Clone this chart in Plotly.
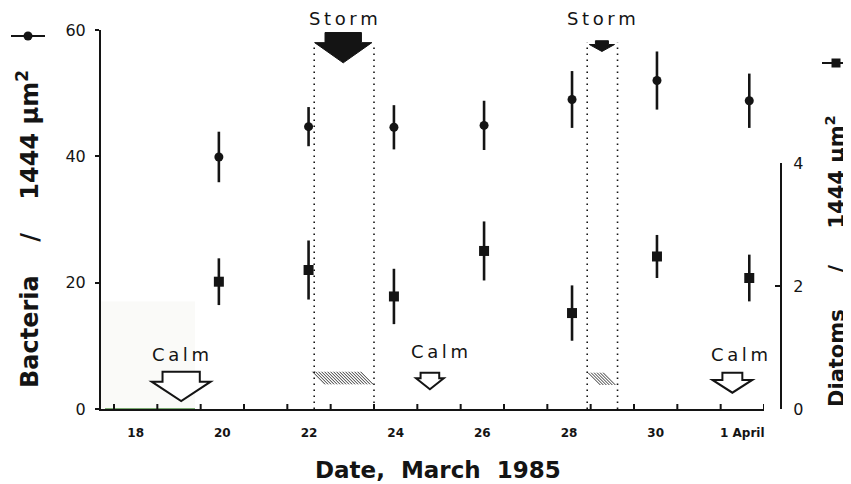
import plotly.graph_objects as go

# ---------------- data (days: March 18 00:00 = 18.0, 1 April = 32.0) ----------------
sample_day = [20.42, 22.49, 24.46, 26.54, 28.57, 30.53, 32.66]
bacteria = [39.9, 44.7, 44.6, 44.9, 49.0, 52.0, 48.8]
bacteria_err = [4.0, 3.1, 3.5, 3.9, 4.5, 4.6, 4.3]
diatoms = [2.07, 2.26, 1.83, 2.57, 1.56, 2.48, 2.13]
diatoms_err = [0.38, 0.48, 0.45, 0.48, 0.45, 0.35, 0.38]

day_boundaries = list(range(18, 34))
label_pos = [18.5, 20.5, 22.5, 24.5, 26.5, 28.5, 30.5, 32.5]
label_text = ["18", "20", "22", "24", "26", "28", "30", "1 April"]
left_ticks = [0, 20, 40, 60]
right_ticks = [0, 2, 4]

# storm periods
storm_start = [22.62, 28.92]
storm_end = [24.00, 29.62]
storm_top = [57.7, 58.0]
storm_arrow_x = [23.29, 29.26]
storm_shaft_hw = [0.42, 0.15]
storm_head_hw = [0.66, 0.29]
storm_arrow_top = [59.6, 58.3]
storm_arrow_neck = [58.0, 57.7]
storm_arrow_tip = [54.8, 56.6]
hatch_start = [22.58, 28.94]
hatch_end = [24.00, 29.63]
hatch_base = [3.9, 3.8]
hatch_top = [5.9, 5.75]

# calm periods
calm_x = [19.55, 25.29, 32.27]
calm_shaft_hw = [0.43, 0.215, 0.23]
calm_head_hw = [0.68, 0.32, 0.46]
calm_top = [5.9, 5.75, 5.75]
calm_neck = [4.33, 4.87, 4.6]
calm_tip = [1.27, 3.12, 2.58]
calm_label_x = [19.54, 25.52, 32.44]
calm_label_y = [8.6, 9.1, 8.6]

INK = "#141414"
FONT = "DejaVu Sans"

# page body has an 8px margin: the figure is drawn at (8, 8)
OFF = 8
W, H = 851 - OFF, 484 - OFF
PL, PR, PT, PB = 101, 781, 30, 409   # plot area in window pixels
XR = [17.70, 33.0]
YR = [0, 60]
X_PER_PX = (XR[1] - XR[0]) / (764 - PL)
Y_PER_PX = (YR[1] - YR[0]) / (PB - PT)

fig = go.Figure()

# hatched parallelograms (storm periods near the axis), drawn as diagonal strokes
hx, hy = [], []
for s, e, b, t in zip(hatch_start, hatch_end, hatch_base, hatch_top):
    slant = (t - b) / Y_PER_PX * X_PER_PX      # 45 degree strokes
    step = 3 * X_PER_PX
    x = s
    while x + slant <= e + 1e-9:
        hx += [x, x + slant, None]
        hy += [t, b, None]
        x += step
fig.add_trace(go.Scatter(x=hx, y=hy, mode="lines", line=dict(color="#333333", width=1),
                         showlegend=False, hoverinfo="skip"))

fig.add_trace(go.Scatter(
    x=sample_day, y=bacteria, mode="markers", yaxis="y",
    marker=dict(symbol="circle", size=9, color=INK),
    error_y=dict(type="data", array=bacteria_err, width=0, thickness=2.6, color=INK),
    showlegend=False))

fig.add_trace(go.Scatter(
    x=sample_day, y=diatoms, mode="markers", yaxis="y2",
    marker=dict(symbol="square", size=10, color=INK),
    error_y=dict(type="data", array=diatoms_err, width=0, thickness=2.6, color=INK),
    showlegend=False))


def px_x(p):
    return (p - PL) / (PR - PL)


def px_y(p):
    return (PB - p) / (PB - PT)


shapes = []
# faint scan shading at lower left
shapes.append(dict(type="rect", xref="paper", yref="y", x0=0, x1=px_x(195), y0=0, y1=17.0,
                   fillcolor="#fafaf8", line=dict(width=0), layer="below"))
shapes.append(dict(type="line", xref="paper", yref="y", x0=px_x(105), x1=px_x(195), y0=0, y1=0,
                   line=dict(color="#4f8f45", width=1.5), layer="above"))

# day-boundary tick marks (pointing up from the date axis)
for d in day_boundaries:
    shapes.append(dict(type="line", xref="x", yref="y", x0=d, x1=d, y0=0, y1=5 * Y_PER_PX,
                       line=dict(color=INK, width=2)))

# storm dotted boundaries and arrows
for s, e, top in zip(storm_start, storm_end, storm_top):
    for xv in (s, e):
        shapes.append(dict(type="line", xref="x", yref="y", x0=xv, x1=xv, y0=0, y1=top,
                           line=dict(color=INK, width=1.6, dash="1.5px,4.5px")))
for cx, shw, hhw, t, n, tip in zip(storm_arrow_x, storm_shaft_hw, storm_head_hw,
                                   storm_arrow_top, storm_arrow_neck, storm_arrow_tip):
    path = (f"M{cx - shw},{t} L{cx + shw},{t} L{cx + shw},{n} L{cx + hhw},{n} "
            f"L{cx},{tip} L{cx - hhw},{n} L{cx - shw},{n} Z")
    shapes.append(dict(type="path", xref="x", yref="y", path=path,
                       fillcolor=INK, line=dict(color=INK, width=1)))

# calm hollow arrows
for cx, shw, hhw, t, n, tip in zip(calm_x, calm_shaft_hw, calm_head_hw, calm_top, calm_neck, calm_tip):
    path = (f"M{cx - shw},{t} L{cx + shw},{t} L{cx + shw},{n} L{cx + hhw},{n} "
            f"L{cx},{tip} L{cx - hhw},{n} L{cx - shw},{n} Z")
    shapes.append(dict(type="path", xref="x", yref="y", path=path,
                       fillcolor="white", line=dict(color=INK, width=2)))

# legend keys beside axis titles
shapes.append(dict(type="line", xref="paper", yref="paper", x0=px_x(11), x1=px_x(45),
                   y0=px_y(36), y1=px_y(36), line=dict(color=INK, width=2)))
shapes.append(dict(type="circle", xref="paper", yref="paper", xsizemode="pixel", ysizemode="pixel",
                   xanchor=px_x(28), yanchor=px_y(36), x0=-4.5, x1=4.5, y0=-4.5, y1=4.5,
                   fillcolor=INK, line=dict(color=INK, width=0)))
shapes.append(dict(type="line", xref="paper", yref="paper", x0=px_x(822), x1=px_x(848),
                   y0=px_y(63), y1=px_y(63), line=dict(color=INK, width=2)))
shapes.append(dict(type="rect", xref="paper", yref="paper", xsizemode="pixel", ysizemode="pixel",
                   xanchor=px_x(836), yanchor=px_y(63), x0=-4.5, x1=4.5, y0=-4.5, y1=4.5,
                   fillcolor=INK, line=dict(color=INK, width=0)))


def spaced(t):
    return "\u2009".join(t)


def ann(**kw):
    base = dict(showarrow=False, xanchor="center", yanchor="middle")
    base.update(kw)
    return base


annotations = []
for cx in storm_arrow_x:
    annotations.append(ann(x=cx, y=px_y(18), xref="x", yref="paper", text=spaced("Storm"),
                           font=dict(family=FONT, size=18, color=INK)))
for cx, cy in zip(calm_label_x, calm_label_y):
    annotations.append(ann(x=cx, y=cy, xref="x", yref="y", text=spaced("Calm"),
                           font=dict(family=FONT, size=18, color=INK)))

annotations.append(ann(x=px_x(28), y=px_y(229), xref="paper", yref="paper", textangle=-90,
                       text="<b>Bacteria    /    1444 \u03bcm<sup>2</sup></b>",
                       font=dict(family=FONT, size=24, color=INK)))
annotations.append(ann(x=px_x(835), y=px_y(261), xref="paper", yref="paper", textangle=-90,
                       text="<b>Diatoms     /     1444 \u03bcm<sup>2</sup></b>",
                       font=dict(family=FONT, size=21, color=INK)))
annotations.append(ann(x=px_x(438), y=px_y(470), xref="paper", yref="paper",
                       text="<b>Date,  March  1985</b>",
                       font=dict(family=FONT, size=23, color=INK)))

xdom = [0, (764 - PL) / (PR - PL)]

fig.update_layout(
    width=W, height=H,
    margin=dict(l=PL - OFF, r=W + OFF - PR, t=PT - OFF, b=H + OFF - PB, autoexpand=False),
    paper_bgcolor="white", plot_bgcolor="rgba(0,0,0,0)",
    showlegend=False,
    xaxis=dict(domain=xdom, range=XR, showgrid=False, zeroline=False,
               showline=True, linecolor=INK, linewidth=2,
               tickmode="array", tickvals=label_pos, ticktext=label_text,
               ticks="", ticklabelstandoff=12,
               tickfont=dict(family=FONT, size=12, color=INK, weight="bold")),
    yaxis=dict(domain=[0, 1], range=YR, showgrid=False, zeroline=False,
               showline=True, linecolor=INK, linewidth=2,
               tickmode="array", tickvals=left_ticks, ticks="outside", ticklen=4, tickwidth=2,
               tickcolor=INK, ticklabelstandoff=6,
               tickfont=dict(family=FONT, size=16, color=INK)),
    yaxis2=dict(domain=[0, px_y(163)], range=[0, 4], anchor="free",
                position=1.0, side="right", showgrid=False, zeroline=False,
                showline=True, linecolor=INK, linewidth=2,
                tickmode="array", tickvals=right_ticks, ticks="inside", ticklen=5, tickwidth=2,
                tickcolor=INK, ticklabelstandoff=8,
                tickfont=dict(family=FONT, size=16, color=INK)),
    shapes=shapes,
    annotations=annotations,
)

fig.write_html("out.html")
